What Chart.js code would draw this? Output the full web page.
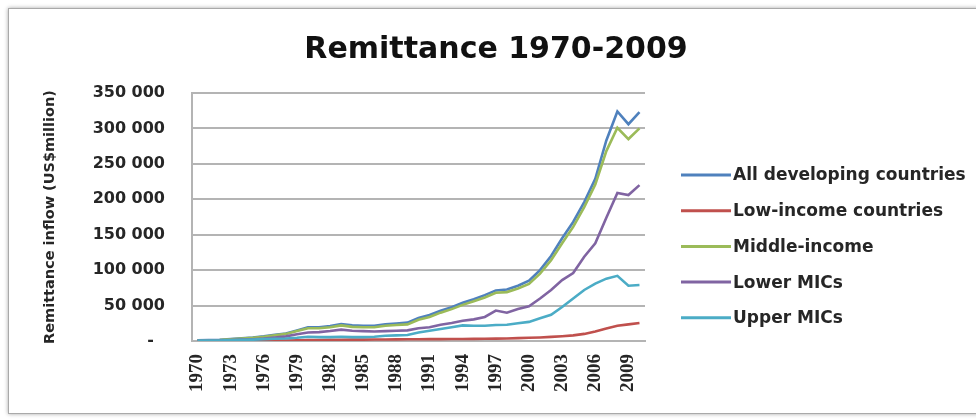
<!DOCTYPE html>
<html>
<head>
<meta charset="utf-8">
<title>Remittance 1970-2009</title>
<script src="https://cdn.jsdelivr.net/npm/chart.js@4.4.1/dist/chart.umd.min.js"></script>
<style>
  html, body { margin: 0; padding: 0; background: #fff; }
  body { width: 976px; height: 419px; position: relative; overflow: hidden; }
  /* marco gris alrededor del gráfico */
  #marco {
    position: absolute; left: 8px; top: 8px; width: 1000px; height: 404px;
    border: 1px solid #a9a9a9; box-shadow: 0 0 4px rgba(0, 0, 0, 0.35); background: #fff;
  }
  #grafico { position: absolute; left: 0; top: 0; }
</style>
</head>
<body>
<div id="marco"></div>
<canvas id="grafico" width="976" height="419"></canvas>
<script>
// datos (US$ millones)

var anios = ["1970", "1971", "1972", "1973", "1974", "1975", "1976", "1977", "1978", "1979",
  "1980", "1981", "1982", "1983", "1984", "1985", "1986", "1987", "1988", "1989",
  "1990", "1991", "1992", "1993", "1994", "1995", "1996", "1997", "1998", "1999",
  "2000", "2001", "2002", "2003", "2004", "2005", "2006", "2007", "2008", "2009", "2010"];

var todosPaises = [1100, 1300, 1700, 2700, 3800, 4900, 6500, 8600, 10700, 14900,
  19200, 19400, 21100, 23800, 22000, 21500, 21600, 23700, 24800, 25900,
  32500, 36600, 42700, 47800, 54000, 59000, 64700, 71400, 72600, 78000,
  85000, 100000, 120000, 145000, 168000, 196000, 229000, 283000, 324000, 306000, 323000];

var ingresoBajo = [100, 200, 200, 200, 300, 400, 500, 600, 700, 900,
  1200, 1400, 1600, 1800, 2000, 2000, 2100, 2200, 2300, 2400,
  2500, 2600, 2700, 2800, 2900, 3000, 3200, 3400, 3600, 4000,
  4500, 5000, 5800, 6800, 8000, 10000, 13500, 17500, 21500, 23500, 25500];

var ingresoMedio = [1000, 1100, 1500, 2500, 3500, 4500, 6000, 8000, 10000, 14000,
  18000, 18000, 19500, 22000, 20000, 19500, 19500, 21500, 22500, 23500,
  30000, 34000, 40000, 45000, 51000, 56000, 61500, 68000, 69000, 74000,
  80500, 95000, 114000, 138000, 161000, 189000, 221000, 268000, 301000, 285000, 300000];

var micBajos = [500, 600, 800, 1300, 1900, 2500, 3400, 4800, 6500, 9500,
  12000, 12500, 14000, 16000, 14500, 14000, 13500, 14000, 14500, 15000,
  18000, 19500, 23000, 25500, 28500, 30500, 34000, 43000, 40000, 45000,
  49000, 60000, 72000, 86000, 96000, 119000, 138000, 174000, 209000, 206000, 220000];

var micAltos = [500, 500, 700, 1200, 1600, 2000, 2600, 3200, 3500, 4500,
  6000, 5500, 5500, 6000, 5500, 5500, 6000, 7500, 8000, 8500,
  12000, 14500, 17000, 19500, 22000, 21500, 21500, 22500, 23000, 25000,
  27000, 32000, 37000, 48000, 60000, 72000, 81000, 88000, 92000, 78000, 79000];

var series = ["All developing countries", "Low-income countries", "Middle-income", "Lower MICs", "Upper MICs"];
var colores = ["#4F81BD", "#C0504D", "#9BBB59", "#8064A2", "#4BACC6"];
var valores = [todosPaises, ingresoBajo, ingresoMedio, micBajos, micAltos];

var colorTexto = "#262626";
var colorRejilla = "#b4b4b4";

// 50000 -> "50 000", el cero se muestra como guion
function formatoMiles(valor) {
  if (valor === 0) {
    return "-  ";
  }
  return valor.toString().replace(/\B(?=(\d{3})+(?!\d))/g, " ");
}

// leyenda a la derecha, dibujada a mano
var leyendaLateral = {
  id: "leyendaLateral",
  afterDraw: function (chart) {
    var ctx = chart.ctx;
    ctx.save();
    ctx.font = "bold 17px 'DejaVu Sans'";
    ctx.textBaseline = "middle";
    chart.data.datasets.forEach(function (ds, i) {
      var y = 175 + i * 35.7;
      ctx.strokeStyle = ds.borderColor;
      ctx.lineWidth = 3;
      ctx.beginPath();
      ctx.moveTo(681, y);
      ctx.lineTo(731, y);
      ctx.stroke();
      ctx.fillStyle = colorTexto;
      ctx.fillText(ds.label, 733, y + 1);
    });
    ctx.restore();
  }
};

// años en vertical bajo el eje, uno de cada tres
var aniosVerticales = {
  id: "aniosVerticales",
  afterDraw: function (chart) {
    var ctx = chart.ctx;
    var escala = chart.scales.x;
    ctx.save();
    ctx.font = "bold 19px 'Liberation Serif'";
    ctx.fillStyle = colorTexto;
    ctx.textAlign = "right";
    ctx.textBaseline = "middle";
    for (var i = 0; i < anios.length; i += 3) {
      var x = escala.getPixelForValue(i);
      var y = escala.top + 13;
      // giro de 90 grados alrededor del punto (x, y)
      ctx.setTransform(0, -1, 1, 0, x, y);
      ctx.fillText(anios[i], 0, 0);
    }
    ctx.setTransform(1, 0, 0, 1, 0, 0);
    ctx.restore();
  }
};

function cargaGrafico() {
  var datasets = series.map(function (nombre, i) {
    return {
      label: nombre,
      data: valores[i],
      borderColor: colores[i],
      backgroundColor: colores[i],
      borderWidth: 2.6,
      pointRadius: 0,
      tension: 0,
      fill: false,
      // las últimas series quedan encima
      order: series.length - i
    };
  });

  var config = {
    type: "line",
    data: { labels: anios, datasets: datasets },
    plugins: [leyendaLateral, aniosVerticales],
    options: {
      responsive: false,
      animation: false,
      layout: { padding: { left: 16, right: 0, top: 0, bottom: 0 } },
      plugins: {
        legend: { display: false },
        tooltip: { enabled: false },
        title: {
          display: true,
          text: "Remittance 1970-2009",
          color: "#111",
          font: { family: "DejaVu Sans", weight: "bold", size: 30 },
          padding: { top: 32, bottom: 25 }
        }
      },
      scales: {
        x: {
          offset: true,
          grid: { display: false, drawTicks: false },
          border: { color: colorRejilla, width: 2 },
          ticks: { display: false },
          afterFit: function (escala) { escala.height = 78; }
        },
        y: {
          min: 0,
          max: 350000,
          grid: { color: colorRejilla, lineWidth: 2, drawTicks: false },
          border: { color: colorRejilla, width: 2 },
          ticks: {
            stepSize: 50000,
            padding: 27,
            color: colorTexto,
            font: { family: "DejaVu Sans", weight: "bold", size: 16 },
            callback: formatoMiles
          },
          title: {
            display: true,
            text: "Remittance inflow (US$million)",
            color: colorTexto,
            font: { family: "DejaVu Sans", weight: "bold", size: 14.5 },
            padding: { top: 26, bottom: 0 }
          },
          afterFit: function (escala) { escala.width = 176; }
        },
        // eje vacío que reserva el hueco de la leyenda
        hueco: {
          position: "right",
          display: true,
          grid: { display: false },
          border: { display: false },
          ticks: { display: false },
          afterFit: function (escala) { escala.width = 331; }
        }
      }
    }
  };

  new Chart(document.getElementById("grafico").getContext("2d"), config);
}

cargaGrafico();
</script>
</body>
</html>
